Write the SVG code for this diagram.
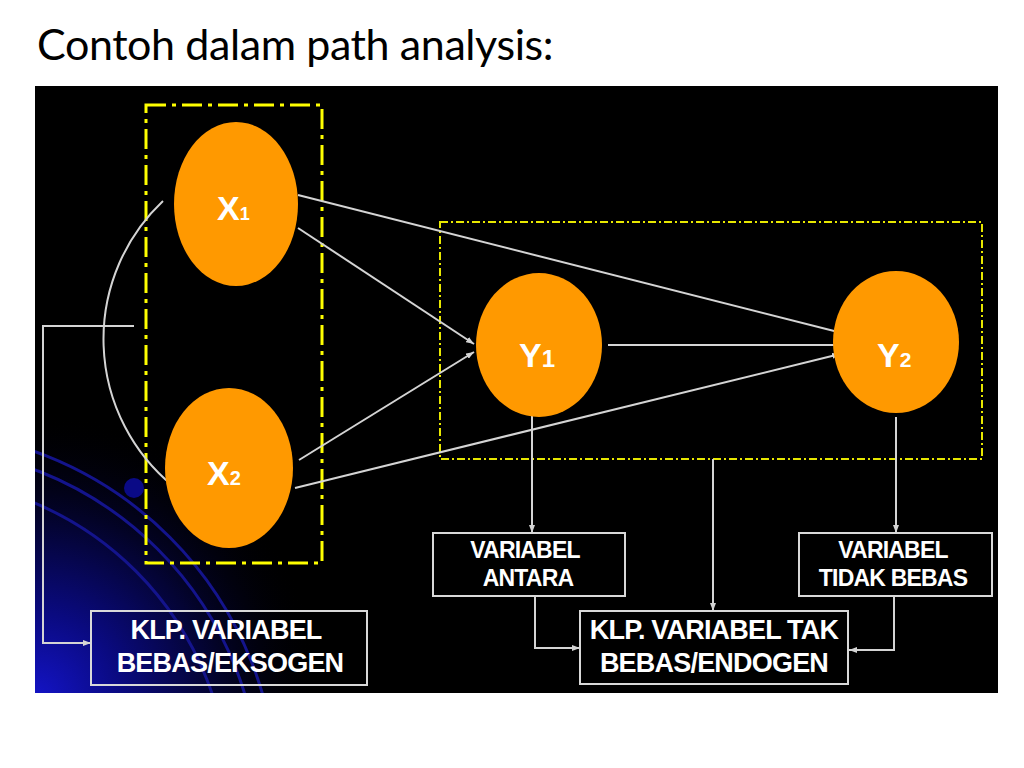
<svg xmlns="http://www.w3.org/2000/svg" width="1024" height="768" viewBox="0 0 1024 768">
<defs>
<style>
.title{font-family:Lato,"Open Sans","Liberation Sans",sans-serif;font-size:43px;letter-spacing:-0.4px;fill:#000}
.node{fill:#FF9900}
.nl{font-family:"Liberation Sans",Arial,sans-serif;font-weight:bold;fill:#fff}
.big{font-size:34px}
.box{fill:none;stroke:#D9D9D9;stroke-width:2}
.bt{font-family:"Liberation Sans",Arial,sans-serif;font-weight:bold;fill:#fff;text-anchor:middle}
.bt26{font-size:27px;letter-spacing:-0.8px}
.bt21{font-size:23px;letter-spacing:-0.8px}
.con{fill:none;stroke:#D4D4D4;stroke-width:2}
.arw{marker-end:url(#ah)}
.grpA{fill:none;stroke:#FFFF00;stroke-width:3;stroke-dasharray:20 6 4 6}
.grpB{fill:none;stroke:#E8E800;stroke-width:2;stroke-dasharray:8 3 2 3}
.deco{fill:none;stroke:#14148C;stroke-width:3}
</style>
<marker id="ah" viewBox="0 0 8 6" markerWidth="8" markerHeight="6" refX="8" refY="3" orient="auto" markerUnits="userSpaceOnUse">
<path d="M0,0 L8,3 L0,6 z" fill="#D4D4D4"/>
</marker>
<radialGradient id="glow" cx="35" cy="700" r="290" gradientUnits="userSpaceOnUse">
<stop offset="0" stop-color="#1414C8"/>
<stop offset="0.3" stop-color="#0A0A80"/>
<stop offset="0.65" stop-color="#030328"/>
<stop offset="1" stop-color="#000" stop-opacity="0"/>
</radialGradient>
<clipPath id="panel"><rect x="35" y="86" width="963" height="607"/></clipPath>
</defs>
<rect width="1024" height="768" fill="#fff"/>
<text class="title" x="37" y="60">Contoh dalam path analysis:</text>
<rect x="35" y="86" width="963" height="607" fill="#000"/>
<g id="background-decoration" clip-path="url(#panel)">
<rect x="35" y="380" width="320" height="313" fill="url(#glow)"/>
<circle class="deco" cx="-89" cy="796" r="366"/>
<circle class="deco" cx="-89" cy="796" r="349"/>
<circle class="deco" cx="-89" cy="796" r="318"/>
<circle cx="134" cy="488" r="10" fill="#0A0A86"/>
</g>
<g id="group-eksogen"><rect class="grpA" x="146" y="105" width="176" height="458"/></g>
<g id="group-endogen"><rect class="grpB" x="440" y="222" width="542" height="237"/></g>
<g id="connectors">
<path class="con" d="M163,201 A190,190 0 0 0 173,486"/>
<path class="con arw" d="M298,195 L842,333"/>
<path class="con arw" d="M298,228 L474,344"/>
<path class="con arw" d="M299,460 L474,352"/>
<path class="con arw" d="M295,488 L840,354"/>
<path class="con arw" d="M608,345 L842,345"/>
<path class="con arw" d="M532,412 L532,533"/>
<path class="con arw" d="M896,417 L896,533"/>
<path class="con arw" d="M713,459 L713,611"/>
<path class="con arw" d="M535,596 L535,648 L580,648"/>
<path class="con arw" d="M894,596 L894,650 L849,650"/>
<path class="con arw" d="M134,326 L43,326 L43,643 L91,643"/>
</g>
<g id="x1"><ellipse class="node" cx="236" cy="204" rx="62" ry="82"/><text class="nl" x="217" y="220"><tspan class="big">X</tspan><tspan font-size="18px">1</tspan></text></g>
<g id="x2"><ellipse class="node" cx="229" cy="468" rx="64" ry="80"/><text class="nl" x="207" y="485"><tspan class="big">X</tspan><tspan font-size="20px">2</tspan></text></g>
<g id="y1"><ellipse class="node" cx="539" cy="345" rx="63" ry="72"/><text class="nl" x="519" y="367"><tspan class="big">Y</tspan><tspan font-size="24px">1</tspan></text></g>
<g id="y2"><ellipse class="node" cx="896" cy="342" rx="63" ry="71"/><text class="nl" x="877" y="367"><tspan class="big">Y</tspan><tspan font-size="21px">2</tspan></text></g>
<g id="box-antara"><rect class="box" x="433" y="533" width="192" height="63"/><text class="bt bt21" x="525" y="558">VARIABEL</text><text class="bt bt21" x="528" y="586">ANTARA</text></g>
<g id="box-tidak-bebas"><rect class="box" x="799" y="533" width="193" height="63"/><text class="bt bt21" x="893" y="558">VARIABEL</text><text class="bt bt21" x="893" y="586">TIDAK BEBAS</text></g>
<g id="box-eksogen"><rect class="box" x="91" y="611" width="276" height="74"/><text class="bt bt26" x="226" y="639">KLP. VARIABEL</text><text class="bt bt26" x="230" y="672">BEBAS/EKSOGEN</text></g>
<g id="box-endogen"><rect class="box" x="580" y="611" width="268" height="73"/><text class="bt bt26" x="714" y="639">KLP. VARIABEL TAK</text><text class="bt bt26" x="714" y="672">BEBAS/ENDOGEN</text></g>
</svg>
